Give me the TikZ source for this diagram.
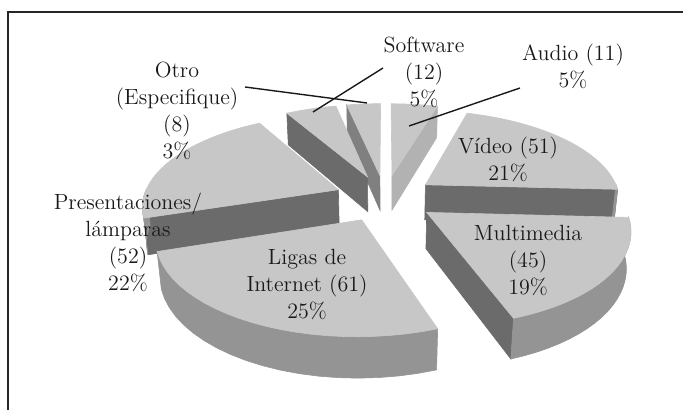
\documentclass[tikz,border=0pt]{standalone}
\begin{document}
\begin{tikzpicture}[x=0.5pt, y=-0.5pt,
        declare function={pjw(\X,\Y,\Z)=5.5+0.887*(\Y)-0.462*(\Z);
            pjx(\X,\Y,\Z)=385+1073*(\X)/pjw(\X,\Y,\Z);
            pjy(\X,\Y,\Z)=198-1073*(0.462*(\Y)+0.887*(\Z))/pjw(\X,\Y,\Z);},
        topface/.style={fill=black!22, draw=black!22, line width=0.3pt},
        sideface/.style={fill=black!42, draw=black!42, line width=0.3pt},
        cutface/.style={fill=black!#1, draw=black!#1, line width=0.3pt},
        lbl/.style={align=center, text=black!90, font=\fontsize{11}{13.5}\selectfont},
        leader/.style={draw=black!90, line width=0.7pt}]
        \def\ex{0.26}
        \def\h{0.21}
        \useasboundingbox (0,0) rectangle (683,410);
        \draw[line width=1pt, black!85] (683,12.5) -- (7.5,12.5) -- (7.5,410);
        % slices from back to front: start angle/end angle/shade of cut face
        \foreach \ta/\tb/\cc in {-270/-258/50, 73.5/90/30, -258/-240/58, -3/73.5/58,
                -240/-162/58, -70.5/-3/58, -162/-70.5/58} {
            \pgfmathsetmacro\ox{\ex*cos((\ta+\tb)/2)}
            \pgfmathsetmacro\oy{\ex*sin((\ta+\tb)/2)}
            \coordinate (o) at ({pjx(\ox,\oy,0)},{pjy(\ox,\oy,0)});
            \coordinate (ob) at ({pjx(\ox,\oy,-\h)},{pjy(\ox,\oy,-\h)});
            \coordinate (a) at ({pjx(\ox+cos(\ta),\oy+sin(\ta),0)},{pjy(\ox+cos(\ta),\oy+sin(\ta),0)});
            \coordinate (ab) at ({pjx(\ox+cos(\ta),\oy+sin(\ta),-\h)},{pjy(\ox+cos(\ta),\oy+sin(\ta),-\h)});
            \coordinate (b) at ({pjx(\ox+cos(\tb),\oy+sin(\tb),0)},{pjy(\ox+cos(\tb),\oy+sin(\tb),0)});
            \coordinate (bb) at ({pjx(\ox+cos(\tb),\oy+sin(\tb),-\h)},{pjy(\ox+cos(\tb),\oy+sin(\tb),-\h)});
            \pgfmathsetmacro\ca{cos(\ta)}
            \pgfmathsetmacro\cb{cos(\tb)}
            \ifdim\ca pt>0.01pt
                \path[cutface=\cc] (o) -- (a) -- (ab) -- (ob) -- cycle;
            \fi
            \ifdim\cb pt<-0.01pt
                \path[cutface=\cc] (o) -- (b) -- (bb) -- (ob) -- cycle;
            \fi
            % front part of the round side
            \pgfmathsetmacro\fa{max(\ta,-180)}
            \pgfmathsetmacro\fb{min(\tb,0)}
            \ifdim\fa pt<\fb pt
                \path[sideface] plot[domain=\fa:\fb, samples=20] ({pjx(\ox+cos(\x),\oy+sin(\x),0)},{pjy(\ox+cos(\x),\oy+sin(\x),0)})
                    -- plot[domain=\fb:\fa, samples=20] ({pjx(\ox+cos(\x),\oy+sin(\x),-\h)},{pjy(\ox+cos(\x),\oy+sin(\x),-\h)}) -- cycle;
            \fi
            \path[topface] (o) -- plot[domain=\ta:\tb, samples=25] ({pjx(\ox+cos(\x),\oy+sin(\x),0)},{pjy(\ox+cos(\x),\oy+sin(\x),0)}) -- cycle;
        }
        \node[lbl] (otro) at (177,111) {Otro\\(Especifique)\\(8)\\3\%};
        \node[lbl] (soft) at (424,72) {Software\\(12)\\5\%};
        \node[lbl] (audio) at (573,66) {Audio (11)\\5\%};
        \node[lbl] (video) at (508,159) {Vídeo (51)\\21\%};
        \node[lbl] (multi) at (528,260) {Multimedia\\(45)\\19\%};
        \node[lbl] (ligas) at (307,284) {Ligas de\\Internet (61)\\25\%};
        \node[lbl] (pres) at (128,242) {Presentaciones/\\lámparas\\(52)\\22\%};
        \coordinate (otro-a) at (245,87);
        \coordinate (otro-b) at (367,103);
        \coordinate (soft-a) at (383,68);
        \coordinate (soft-b) at (313,112);
        \coordinate (audio-a) at (520,88);
        \coordinate (audio-b) at (409,126);
        \draw[leader] (otro-a) -- (otro-b);
        \draw[leader] (soft-a) -- (soft-b);
        \draw[leader] (audio-a) -- (audio-b);
    \end{tikzpicture}
\end{document}
